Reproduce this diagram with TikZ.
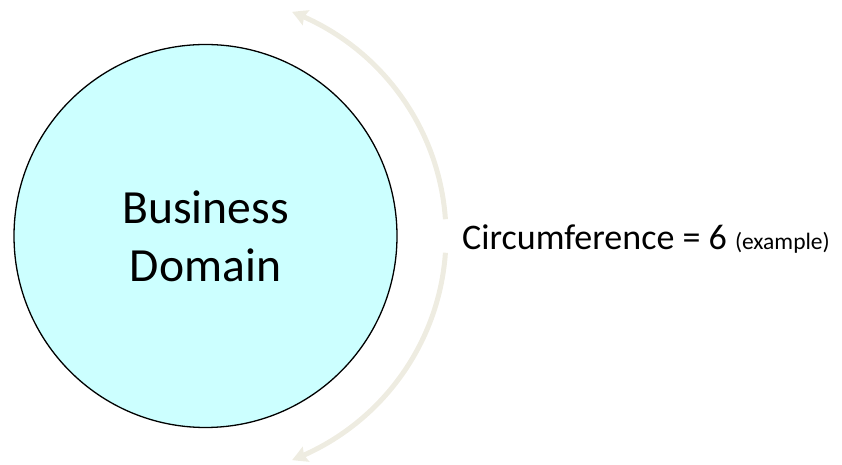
\documentclass[tikz,border=0pt]{standalone}
\usepackage{fontspec}
\setmainfont{Carlito}
\usetikzlibrary{arrows.meta,bending}
\definecolor{domainfill}{HTML}{CCFFFF}
\definecolor{arcbeige}{HTML}{EEECE1}
\tikzset{
  domainbox/.style={circle, draw=black, line width=1.3pt, fill=domainfill, minimum size=383pt, inner sep=0pt, align=center, font=\fontsize{47.6pt}{58pt}\selectfont},
  circarc/.style={draw=arcbeige, line width=5pt, -{Stealth[length=15pt,width=16pt,inset=2pt,bend]}},
  captext/.style={anchor=base west, inner sep=0pt, font=\fontsize{36pt}{43pt}\selectfont}
}
\begin{document}
\begin{tikzpicture}[x=1pt,y=1pt]
\useasboundingbox (0,0) rectangle (842,465);
\node[domainbox] (bd) at (205.5,229) {Business\\Domain};
\coordinate (c) at (206,229);
\draw[circarc] (c) ++(4:240pt) arc[start angle=4, end angle=69, radius=240pt];
\draw[circarc] (c) ++(-4:240pt) arc[start angle=-4, end angle=-69, radius=240pt];
\node[captext] (cap) at (462,215.7) {Circumference = 6 {\fontsize{23.5pt}{28pt}\selectfont(example)}};
\end{tikzpicture}
\end{document}
